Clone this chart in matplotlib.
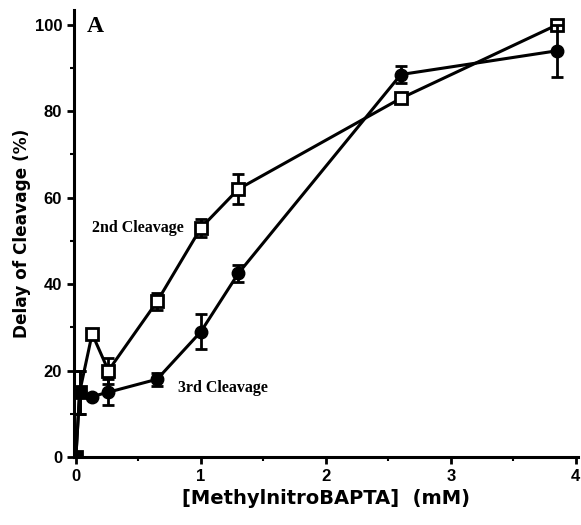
import matplotlib.pyplot as plt
from matplotlib.ticker import MultipleLocator

# 2nd cleavage (open squares)
x2 = [0, 0.03, 0.13, 0.26, 0.65, 1.0, 1.3, 2.6, 3.85]
y2 = [0, 15, 28.5, 20, 36, 53, 62, 83, 100]
e2 = [0, 5, 0, 3, 2, 2, 3.5, 0, 1]

# 3rd cleavage (filled circles)
x3 = [0, 0.03, 0.13, 0.26, 0.65, 1.0, 1.3, 2.6, 3.85]
y3 = [0, 15, 14, 15, 18, 29, 42.5, 88.5, 94]
e3 = [0, 5, 0, 3, 1.5, 4, 2, 2, 6]

fig = plt.figure(figsize=(5.81, 5.25), dpi=100)
ax = fig.add_axes([0.1274, 0.1295, 0.868, 0.852])

ax.errorbar(x2, y2, yerr=e2, color='black', lw=2.2, marker='s', ms=8,
            mfc='white', mec='black', mew=2, capsize=4, capthick=2, elinewidth=2, zorder=3)
ax.errorbar(x3, y3, yerr=e3, color='black', lw=2.2, marker='o', ms=9,
            mfc='black', mec='black', capsize=4, capthick=2, elinewidth=2, zorder=4)

ax.set_xlim(-0.015, 4.02)
ax.set_ylim(0, 103.5)
ax.xaxis.set_major_locator(MultipleLocator(1))
ax.xaxis.set_minor_locator(MultipleLocator(0.5))
ax.yaxis.set_major_locator(MultipleLocator(20))
ax.yaxis.set_minor_locator(MultipleLocator(10))
ax.tick_params(which='major', direction='out', length=5, width=2, labelsize=12)
ax.tick_params(which='minor', direction='out', length=3, width=1.5)
for lab in ax.get_xticklabels() + ax.get_yticklabels():
    lab.set_fontweight('bold')
    lab.set_family('Liberation Sans')

for s in ['top', 'right']:
    ax.spines[s].set_visible(False)
for s in ['left', 'bottom']:
    ax.spines[s].set_linewidth(2.2)

ax.set_xlabel('[MethylnitroBAPTA]  (mM)', fontsize=14, fontweight='bold',
              family='DejaVu Sans', labelpad=4)
ax.set_ylabel('Delay of Cleavage (%)', fontsize=12.2, fontweight='bold',
              family='DejaVu Sans', labelpad=3)

ax.text(0.13, 53, '2nd Cleavage', fontsize=11.5, family='Liberation Serif',
        fontweight='bold', va='center', ha='left')
ax.text(0.82, 16, '3rd Cleavage', fontsize=11.5, family='Liberation Serif',
        fontweight='bold', va='center', ha='left')
ax.text(0.09, 99.5, 'A', fontsize=17, family='Liberation Serif',
        fontweight='bold', va='center', ha='left')

fig.savefig('out.png', dpi=100)
